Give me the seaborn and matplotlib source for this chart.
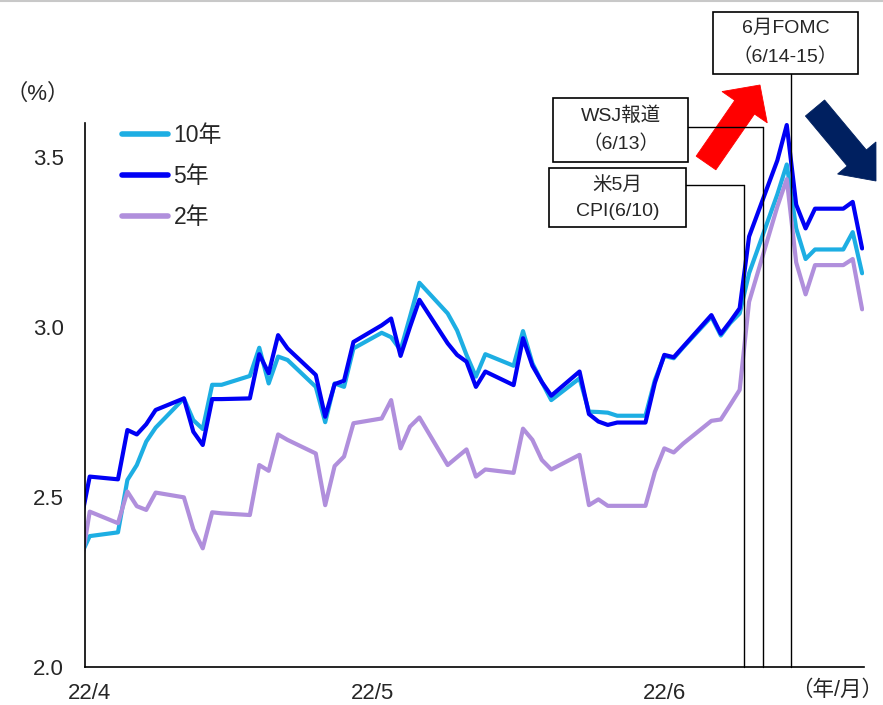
import numpy as np
import pandas as pd
import matplotlib
matplotlib.use("Agg")
import matplotlib.pyplot as plt
import matplotlib.dates as mdates
import matplotlib.transforms as mtransforms
from matplotlib.patches import Rectangle, FancyArrow
from matplotlib.lines import Line2D
import seaborn as sns

# ---- data: US Treasury yields (%), business days 2022/3/31 - 2022/6/22 ----
dates = pd.bdate_range("2022-03-31", "2022-06-22")

yield_10y = [
    2.325, 2.385, 2.396, 2.550, 2.594, 2.663, 2.704, 2.790, 2.726, 2.700,
    2.830, 2.830, 2.856, 2.939, 2.834, 2.913, 2.903, 2.824, 2.720, 2.834,
    2.824, 2.937, 2.983, 2.970, 2.932, 3.030, 3.130, 3.040, 2.990, 2.918,
    2.854, 2.920, 2.886, 2.988, 2.893, 2.838, 2.785, 2.849, 2.751, 2.750,
    2.748, 2.739, 2.739, 2.844, 2.915, 2.908, 2.940, 3.030, 2.975, 3.012,
    3.040, 3.158, 3.390, 3.478, 3.290, 3.200, 3.228, 3.228, 3.279, 3.158,
]
yield_5y = [
    2.420, 2.560, 2.552, 2.697, 2.684, 2.714, 2.756, 2.790, 2.692, 2.653,
    2.788, 2.788, 2.790, 2.920, 2.864, 2.976, 2.937, 2.859, 2.736, 2.832,
    2.842, 2.956, 3.005, 3.025, 2.915, 3.000, 3.080, 2.952, 2.918, 2.898,
    2.824, 2.869, 2.829, 2.967, 2.886, 2.838, 2.798, 2.869, 2.744, 2.722,
    2.712, 2.719, 2.719, 2.836, 2.918, 2.911, 2.942, 3.035, 2.980, 3.016,
    3.055, 3.266, 3.490, 3.594, 3.360, 3.290, 3.348, 3.348, 3.368, 3.231,
]
yield_2y = [
    2.285, 2.457, 2.423, 2.516, 2.473, 2.462, 2.513, 2.499, 2.405, 2.349,
    2.455, 2.452, 2.447, 2.594, 2.577, 2.684, 2.668, 2.628, 2.476, 2.591,
    2.619, 2.717, 2.731, 2.785, 2.643, 2.707, 2.734, 2.594, 2.617, 2.640,
    2.560, 2.581, 2.571, 2.701, 2.668, 2.609, 2.581, 2.624, 2.476, 2.493,
    2.474, 2.474, 2.474, 2.574, 2.643, 2.631, 2.657, 2.724, 2.728, 2.771,
    2.815, 3.074, 3.354, 3.435, 3.190, 3.096, 3.182, 3.182, 3.200, 3.052,
]

series_names = ["10年", "5年", "2年"]
series_colors = ["#1DAEE3", "#0000F5", "#B08FDC"]

month_ticks = pd.to_datetime(["2022-04-01", "2022-05-01", "2022-06-01"])
month_labels = ["22/4", "22/5", "22/6"]

events = [
    ("米5月\nCPI(6/10)", "2022-06-10"),
    ("WSJ報道\n（6/13）", "2022-06-12"),
    ("6月FOMC\n（6/14-15）", "2022-06-15"),
]

# ---- long-form table for seaborn (each day plotted at its midpoint) ----
frames = []
for name, vals in zip(series_names, [yield_10y, yield_5y, yield_2y]):
    frames.append(pd.DataFrame({"date": dates + pd.Timedelta(hours=12),
                                "value": vals, "series": name}))
df = pd.concat(frames, ignore_index=True)

sns.set_style("white")
plt.rcParams["font.family"] = ["Liberation Sans", "Noto Sans CJK JP", "DejaVu Sans"]

W, H = 883, 705
fig = plt.figure(figsize=(W / 100, H / 100), dpi=100)
ax = fig.add_axes([85 / W, 1 - 667 / H, (864 - 85) / W, (667 - 123) / H])

# pixel coordinates (origin top-left) for the annotation layer
px = mtransforms.Affine2D().scale(1 / W, -1 / H).translate(0, 1) + fig.transFigure

sns.lineplot(data=df, x="date", y="value", hue="series",
             hue_order=series_names, palette=series_colors,
             linewidth=3.0, ax=ax, legend=True)

start = pd.Timestamp("2022-04-01")
ax.set_xlim(start, start + pd.Timedelta(days=82.7))
ax.set_ylim(2.0, 3.6)
ax.set_yticks([2.0, 2.5, 3.0, 3.5])
ax.set_yticklabels([f"{v:.1f}" for v in [2.0, 2.5, 3.0, 3.5]])

# month ticks at day boundaries, labels centred on the first day
ax.set_xticks(month_ticks)
ax.set_xticklabels([])
ax.set_xticks(month_ticks + pd.Timedelta(hours=12), minor=True)
ax.set_xticklabels(month_labels, minor=True)
ax.tick_params(axis="x", which="minor", length=0, pad=11.5, labelsize=16)
ax.tick_params(axis="x", which="major", direction="in", length=5, width=1.1)
ax.tick_params(axis="y", direction="in", length=4.5, width=1.1, pad=15, labelsize=16)
ax.set_xlabel("")
ax.set_ylabel("")

for side in ["top", "right"]:
    ax.spines[side].set_visible(False)
for side in ["left", "bottom"]:
    ax.spines[side].set_color("black")
    ax.spines[side].set_linewidth(1.2)

handles, labels = ax.get_legend_handles_labels()
for h in handles:
    h.set_linewidth(4)
ax.legend(handles, labels, loc="upper left", frameon=False, fontsize=16.5,
          bbox_to_anchor=(122 / W, 1 - 124 / H), bbox_transform=fig.transFigure,
          borderpad=0, borderaxespad=0, handlelength=2.0, handletextpad=0.25,
          labelspacing=0.78)

# axis unit labels
fig.text(38 / W, 1 - 94 / H, "（%）", fontsize=16, ha="center", va="center")
fig.text(837 / W, 1 - 690 / H, "（年/月）", fontsize=15.5, ha="center", va="center")

# event boxes, connectors and vertical markers
boxes = [
    # (left, top, right, bottom, connector y)
    (549, 168, 686, 227, 185),
    (553, 98, 688, 162, 127),
    (713, 12, 858, 74, None),
]
for (text, day), (l, t, r, b, cy) in zip(events, boxes):
    fig.add_artist(Rectangle((l, t), r - l, b - t, transform=px, fill=True,
                             facecolor="white", edgecolor="black", linewidth=1.2))
    fig.text((l + r) / 2 / W, 1 - (t + b) / 2 / H, text, fontsize=14,
             ha="center", va="center", linespacing=1.7)
    xday = mdates.date2num(pd.Timestamp(day))
    top_px = cy if cy is not None else b
    ax.plot([xday, xday], [0, (667 - top_px) / (667 - 123)], color="black",
            linewidth=1.0, transform=ax.get_xaxis_transform(), clip_on=False)
    if cy is not None:
        xpx = ax.transData.transform((xday, 2.0))[0]
        fig.add_artist(Line2D([r, xpx], [cy, cy], transform=px,
                              color="black", linewidth=1.0))

# direction arrows (rise, then fall)
def block_arrow(x0, y0, x1, y1, shaft, head_w, head_len, color):
    fig.add_artist(FancyArrow(x0, y0, x1 - x0, y1 - y0, width=shaft,
                              head_width=head_w, head_length=head_len,
                              length_includes_head=True, transform=px,
                              facecolor=color, edgecolor=color, linewidth=0.6))

block_arrow(706, 163, 760, 85, 24, 55, 27, "#FF0000")
block_arrow(815, 108, 876, 181, 25, 50, 30, "#002060")

# thin grey frame line along the top
fig.add_artist(Line2D([0, W], [1, 1], transform=px, color="#C8C8C8", linewidth=1.5))

fig.savefig("out.png", dpi=100)
